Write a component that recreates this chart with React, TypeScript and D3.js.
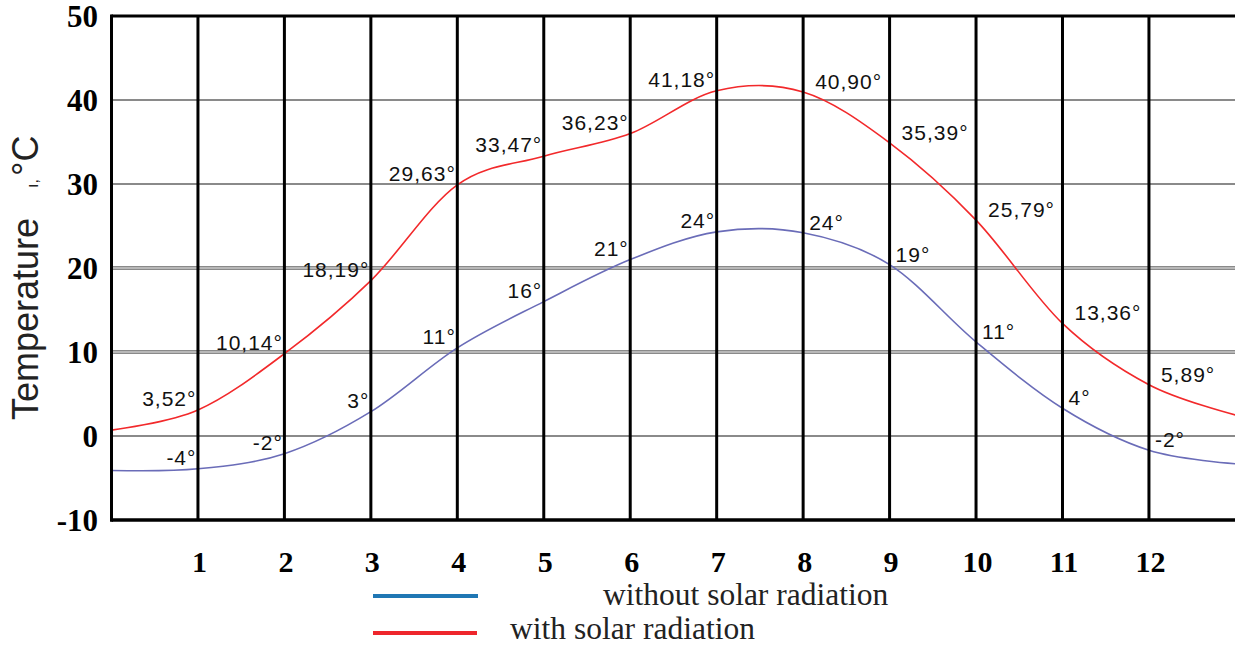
import React from "react";
import * as d3 from "d3";

const months = [1, 2, 3, 4, 5, 6, 7, 8, 9, 10, 11, 12];
// curve values at each month line, plus edge values at x=0 and x=13
const withSolar = [3.1, 9.8, 18.5, 29.9, 33.3, 36.0, 41.1, 40.95, 34.9, 25.7, 13.4, 6.1];
const withoutSolar = [-3.9, -2.1, 2.9, 10.5, 16.0, 21.0, 24.3, 24.2, 20.4, 11.2, 3.3, -1.7];
const withSolarEdges = [0.7, 2.5];
const withoutSolarEdges = [-4.1, -3.3];
const withSolarLabels = ["3,52°", "10,14°", "18,19°", "29,63°", "33,47°", "36,23°", "41,18°", "40,90°", "35,39°", "25,79°", "13,36°", "5,89°"];
const withoutSolarLabels = ["-4°", "-2°", "3°", "11°", "16°", "21°", "24°", "24°", "19°", "11°", "4°", "-2°"];
const yTicks = [50, 40, 30, 20, 10, 0, -10];
const gridValues = [40, 30, 20, 10, 0];
const legendItems = ["without solar radiation", "with solar radiation"];

const W = 1235;
const H = 646;

export default function App() {
  const x = d3.scaleLinear().domain([0, 13]).range([111.5, 1235.4]);
  const y = d3.scaleLinear().domain([-10, 50]).range([520, 16]);

  const build = (vals: number[], edges: number[]) => {
    const pts: [number, number][] = [[0, edges[0]]];
    months.forEach((m, i) => pts.push([m, vals[i]]));
    pts.push([13, edges[1]]);
    return pts;
  };
  const line = d3
    .line<[number, number]>()
    .x((d) => x(d[0]))
    .y((d) => y(d[1]))
    .curve(d3.curveCardinal.tension(0));

  const redPath = line(build(withSolar, withSolarEdges)) || "";
  const bluePath = line(build(withoutSolar, withoutSolarEdges)) || "";

  const red = "#f2292b";
  const blue = "#6a6cb8";
  const labelFont = "'Liberation Sans', Arial, sans-serif";
  const serif = "'Liberation Serif', 'Times New Roman', serif";

  const labelPos = (m: number, v: number, afterGap: number) => {
    const before = m <= 7;
    return {
      x: before ? x(m) - 1.5 : x(m) + afterGap,
      y: y(v) - (before ? 4 : 3),
      anchor: before ? "end" : "start",
    };
  };

  const renderLabels = (vals: number[], texts: string[], afterGap: number, key: string) =>
    months.map((m, i) => {
      const p = labelPos(m, vals[i], afterGap);
      return (
        <text
          key={key + m}
          x={p.x}
          y={p.y}
          textAnchor={p.anchor}
          fontFamily={labelFont}
          fontSize={21}
          letterSpacing={1}
          fill="#111"
        >
          {texts[i]}
        </text>
      );
    });

  return (
    <svg
      width={W}
      height={H}
      style={{ position: "absolute", left: 0, top: 0, background: "#fff" }}
    >
      <rect x={0} y={0} width={W} height={H} fill="#fff" />
      {/* horizontal grid */}
      {gridValues.map((v) => (
        <g key={v}>
          <line x1={x(0)} x2={W} y1={y(v)} y2={y(v)} stroke="#8a8a8a" strokeWidth={v === 20 || v === 10 ? 4 : 2} />
          {(v === 20 || v === 10) && (
            <line x1={x(0)} x2={W} y1={y(v)} y2={y(v)} stroke="#e6e6e6" strokeWidth={1} />
          )}
        </g>
      ))}

      {/* curves */}
      <path d={bluePath} fill="none" stroke={blue} strokeWidth={1.6} />
      <path d={redPath} fill="none" stroke={red} strokeWidth={1.6} />

      {/* value labels */}
      {renderLabels(withSolar, withSolarLabels, 12, "r")}
      {renderLabels(withoutSolar, withoutSolarLabels, 6, "b")}

      {/* vertical month lines */}
      {months.map((m) => (
        <line key={"v" + m} x1={x(m)} x2={x(m)} y1={y(50)} y2={y(-10)} stroke="#000" strokeWidth={3} />
      ))}
      {/* borders */}
      <line x1={x(0)} x2={W} y1={y(50)} y2={y(50)} stroke="#000" strokeWidth={3} />
      <line x1={x(0)} x2={W} y1={y(-10)} y2={y(-10)} stroke="#000" strokeWidth={3.5} />
      <line x1={x(0)} x2={x(0)} y1={y(50) - 1.5} y2={y(-10) + 1.75} stroke="#000" strokeWidth={3} />

      {/* y ticks */}
      {yTicks.map((t) => (
        <text key={"yt" + t} x={98} y={y(t) + 11} textAnchor="end" fontFamily={serif} fontWeight="bold" fontSize={31} fill="#000">
          {t}
        </text>
      ))}
      {/* x ticks */}
      {months.map((m) => (
        <text key={"xt" + m} x={x(m) + 1.5} y={572} textAnchor="middle" fontFamily={serif} fontWeight="bold" fontSize={30} fill="#000">
          {m}
        </text>
      ))}

      {/* y axis title */}
      <text transform="translate(38,420) rotate(-90)" fontFamily={labelFont} fontSize={36} fill="#222">
        Temperature
        <tspan dx={30} fontSize={16}>ı,</tspan>
        <tspan dx={3}>°C</tspan>
      </text>

      {/* legend */}
      <line x1={373} x2={478} y1={596} y2={596} stroke="#1f77b4" strokeWidth={4} />
      <line x1={373} x2={477} y1={633} y2={633} stroke="#ee262c" strokeWidth={4} />
      <text x={603} y={605} fontFamily={serif} fontSize={31.5} fill="#222">
        {legendItems[0]}
      </text>
      <text x={510} y={639} fontFamily={serif} fontSize={31.5} fill="#222">
        {legendItems[1]}
      </text>
    </svg>
  );
}
